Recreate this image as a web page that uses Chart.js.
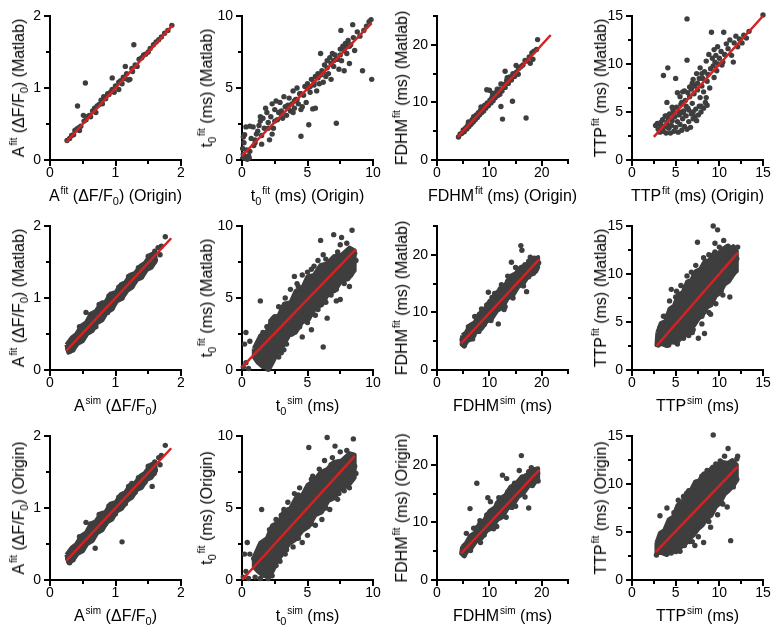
<!DOCTYPE html>
<html>
<head>
<meta charset="utf-8">
<script src="https://cdn.jsdelivr.net/npm/chart.js"></script>
<style>
  body { margin: 0; background: #fff; }
  #fig { position: relative; width: 774px; height: 632px; overflow: hidden; font-family: "Liberation Sans", Arial, sans-serif; }
  #fig canvas { position: absolute; }
  .lbl { position: absolute; font-size: 16px; line-height: 1; white-space: nowrap; color: #000; }
  .lbl sup { font-size: 10px; position: relative; top: -7px; vertical-align: baseline; margin-left: 1px; }
  .lbl sub { font-size: 11px; position: relative; top: 4px; vertical-align: baseline; }
</style>
</head>
<body>
<div id="fig"></div>
<script>
// tick labels per quantity
const ticksA = [0, 1, 2];
const ticksT0 = [0, 5, 10];
const ticksF = [0, 10, 20];
const ticksTTP = [0, 5, 10, 15];

// fitted lines (two end points each)
const p1Fit = [[0.25, 0.25], [1.87, 1.87]];
const p2Fit = [[0, 0.3], [9.9, 9.5]];
const p3Fit = [[4.0, 4.0], [21.7, 21.7]];
const p4Fit = [[2.5, 2.4], [15.0, 15.0]];
const p5Fit = [[0.25, 0.27], [1.85, 1.83]];
const p6Fit = [[0, 0.2], [8.7, 8.4]];
const p7Fit = [[4.6, 4.6], [19.5, 19.2]];
const p8Fit = [[2.8, 2.5], [12.1, 12.2]];
const p9Fit = [[0.25, 0.27], [1.85, 1.83]];
const p10Fit = [[0, 0], [8.6, 8.6]];
const p11Fit = [[4.6, 4.6], [19.5, 19.1]];
const p12Fit = [[2.7, 2.9], [12.1, 11.8]];

// top row: A fit, Origin vs Matlab
const p1Pts = [[0.26,0.27],[0.3,0.3],[0.33,0.34],[0.36,0.35],[0.38,0.41],[0.41,0.43],[0.44,0.45],[0.45,0.41],[0.47,0.47],
  [0.51,0.62],[0.52,0.54],[0.55,0.56],[0.57,0.6],[0.6,0.62],[0.62,0.6],[0.65,0.68],[0.68,0.72],[0.7,0.66],[0.72,0.75],
  [0.75,0.77],[0.78,0.83],[0.8,0.78],[0.82,0.88],[0.85,0.85],[0.88,0.92],[0.9,0.91],[0.93,0.95],[0.95,0.98],[0.98,0.94],
  [1.0,1.03],[1.05,0.98],[1.05,1.08],[1.08,1.1],[1.1,1.06],[1.12,1.15],[1.15,1.13],[1.17,1.2],[1.2,1.11],[1.22,1.12],
  [1.25,1.27],[1.26,1.23],[1.3,1.32],[1.33,1.3],[1.36,1.4],[1.4,1.42],[1.43,1.46],[1.46,1.47],[1.5,1.5],[1.53,1.55],
  [1.58,1.6],[1.62,1.64],[1.66,1.67],[1.7,1.71],[1.75,1.76],[1.8,1.8],[1.86,1.87],
  [0.42,0.75],[0.54,1.07],[0.95,1.14],[1.28,1.6],[1.15,1.3]];

// top row: t0 fit
const p2Pts = [[0.05,0.1],[0.1,0.4],[0.05,0.8],[0.15,1.2],[0.1,1.6],[0.2,1.75],[0.3,0.2],[0.4,0.05],[0.5,0.3],[0.35,0.7],
  [0.55,0.15],[0.6,0.6],[0.3,2.3],[0.6,2.35],[0.85,2.3],[0.7,1.5],[0.9,1.0],[1.0,1.4],[1.1,1.8],[1.2,2.0],[1.3,2.4],
  [1.5,1.1],[1.4,2.7],[1.6,2.9],[1.7,2.2],[1.8,3.6],[1.9,3.3],[2.0,2.6],[2.1,1.4],[2.2,3.0],[2.3,3.9],[2.4,2.2],[2.5,3.5],
  [2.6,4.1],[2.7,2.8],[2.8,3.3],[2.9,4.0],[3.0,3.4],[3.1,2.9],[3.2,4.4],[3.3,3.7],[3.4,3.1],[3.5,3.8],[3.6,4.3],[3.7,3.4],
  [3.8,3.9],[3.9,4.8],[4.0,3.6],[4.1,4.2],[4.2,5.0],[4.3,3.9],[4.4,4.6],[4.5,1.65],[4.6,3.7],[4.7,4.5],[4.8,5.1],[4.9,4.0],
  [5.0,5.3],[5.1,2.45],[5.2,4.7],[5.3,5.6],[5.4,3.55],[5.5,5.2],[5.6,5.8],[5.7,4.8],[5.8,6.0],[5.9,5.3],[6.0,7.4],[6.1,6.2],
  [6.2,5.4],[6.3,6.6],[6.4,5.8],[6.5,6.9],[6.6,6.0],[6.7,7.1],[6.8,5.6],[6.9,7.4],[7.0,6.5],[7.1,7.3],[7.2,2.55],[7.3,7.0],
  [7.4,6.3],[7.5,7.7],[7.55,9.0],[7.6,6.9],[7.7,7.9],[7.8,6.2],[7.9,8.1],[8.0,7.4],[8.1,8.3],[8.2,6.7],[8.3,8.0],[8.45,9.4],
  [8.5,8.5],[8.6,7.6],[8.8,8.9],[9.0,8.6],[9.2,6.2],[9.3,9.0],[9.5,9.3],[9.7,9.6],[9.85,9.75],[9.9,5.6],[5.6,3.6],[3.9,3.3],
  [2.3,1.8],[1.4,3.0],[4.5,3.5],[3.0,3.2],[3.5,3.6],[4.0,4.1],[4.5,4.6],[5.0,5.0],[5.5,5.4],[6.0,5.9],[6.5,6.4],[7.0,6.9],
  [7.5,7.3],[8.0,7.9],[6.2,6.1],[5.2,5.1],[4.2,4.2],[7.8,7.6],[8.2,7.9],[6.8,6.7],[7.2,7.0],[5.8,5.7],[1.5,1.7],[2.0,2.2],
  [2.5,2.7],[1.0,1.2]];

// top row: FDHM fit
const p3Pts = [[4.1,4.0],[4.4,4.5],[4.7,4.6],[5.0,5.2],[5.2,4.9],[5.5,5.6],[5.7,5.4],[5.9,6.1],[6.1,5.8],[6.3,6.5],[6.5,6.2],
  [6.7,7.0],[6.9,6.6],[7.1,7.3],[7.3,7.0],[7.5,7.8],[7.7,7.4],[7.9,8.2],[8.1,7.8],[8.3,8.6],[8.5,8.2],[8.7,9.0],[8.9,8.5],
  [9.1,9.5],[9.3,9.0],[9.5,12.2],[9.6,9.9],[9.8,9.4],[10.0,12.1],[10.1,10.4],[10.3,9.9],[10.5,10.9],[10.7,10.3],[10.9,11.3],
  [11.1,10.8],[11.4,11.8],[11.6,11.2],[11.9,12.3],[12.2,9.3],[12.2,13.2],[12.4,12.0],[12.5,7.1],[12.7,13.1],[13.0,15.4],
  [13.0,12.6],[13.3,13.8],[13.6,13.3],[13.9,14.4],[14.2,13.9],[14.4,10.2],[14.5,15.0],[14.8,14.5],[15.1,16.4],[15.2,15.3],
  [15.6,15.9],[16.0,16.2],[16.4,16.5],[16.8,17.3],[17.0,7.3],[17.2,17.2],[17.6,17.9],[17.8,16.8],[18.1,18.6],[18.5,18.9],
  [19.0,19.2],[19.2,20.9],[18.3,17.5],[11.5,12.3],[8.4,9.2],[7.0,7.5],[6.0,6.6],[10.6,11.6],[13.4,14.3],[15.5,14.9],[12.0,11.4]];

// top row: TTP fit
const p4Pts = [[2.9,3.8],[3.0,3.2],[3.2,2.9],[3.3,3.6],[3.5,4.2],[3.6,3.0],[3.7,3.5],[3.8,4.6],[3.9,2.8],[4.0,3.9],[4.1,4.4],
  [4.2,3.3],[4.3,4.8],[4.4,2.8],[4.5,3.6],[4.6,4.1],[4.7,5.2],[4.8,3.0],[4.9,4.5],[5.0,3.4],[5.1,5.5],[5.2,4.0],[5.3,2.9],
  [5.4,4.7],[5.5,3.7],[5.6,5.8],[5.7,3.1],[5.8,4.3],[5.9,5.1],[6.0,3.5],[6.1,6.2],[6.2,4.6],[6.3,3.2],[6.4,5.4],[6.5,4.0],
  [6.6,6.6],[6.7,3.4],[6.8,4.8],[6.9,5.9],[7.0,4.3],[7.1,6.9],[7.2,4.5],[7.3,5.3],[7.4,4.1],[7.5,7.3],[7.6,4.7],[7.7,5.6],
  [7.8,6.5],[7.9,5.0],[8.0,7.7],[8.2,5.4],[8.4,6.0],[8.6,5.7],[5.5,6.6],[6.0,7.2],[5.2,7.0],[5.4,5.0],[4.6,5.5],[6.5,5.2],
  [7.0,5.0],[6.2,5.6],[5.7,6.0],[4.8,4.9],[5.9,4.9],[4.3,3.5],[3.3,3.9],[4.0,4.6],[6.8,7.4],[7.2,7.7],[7.7,8.5],[7.5,8.0],
  [6.4,7.0],[6.9,8.0],[7.4,9.0],[7.8,9.6],[8.1,8.5],[8.3,9.2],[8.5,10.3],[8.7,8.9],[8.8,11.0],[9.0,9.5],[9.1,13.3],[9.2,10.6],
  [9.3,9.8],[9.4,11.5],[9.5,10.2],[9.6,10.9],[9.8,11.8],[9.9,10.0],[10.0,10.6],[10.2,11.3],[10.3,9.9],[10.5,13.3],[10.6,11.0],
  [10.8,12.1],[11.0,11.6],[11.2,12.5],[11.4,10.9],[11.6,10.2],[11.7,12.2],[11.9,12.9],[12.1,11.8],[12.3,12.6],[12.6,12.2],
  [12.8,13.0],[13.1,12.7],[13.4,13.4],[8.9,7.5],[8.6,8.2],[9.7,9.3],[10.4,10.2],[8.2,7.1],[3.6,8.8],[4.1,9.6],[5.0,8.5],
  [4.0,6.0],[6.3,10.4],[6.3,14.7],[7.0,8.4],[6.6,7.6],[5.8,7.1],[15.0,15.1],[8.0,9.0],[9.4,8.6],[8.5,6.5],[7.9,5.6],[2.7,3.6]];

// middle row: sim vs Matlab (dense clouds: core outline + outlying points)
const p5Core = [[0.25,0.35],[0.33,0.45],[0.4,0.5],[0.48,0.62],[0.55,0.66],[0.62,0.78],[0.7,0.82],[0.78,0.93],[0.85,0.95],
  [0.92,1.06],[1.0,1.08],[1.08,1.19],[1.15,1.22],[1.22,1.32],[1.3,1.35],[1.38,1.45],[1.45,1.49],[1.53,1.6],[1.6,1.63],
  [1.62,1.52],[1.55,1.42],[1.48,1.39],[1.4,1.28],[1.33,1.25],[1.25,1.14],[1.18,1.1],[1.1,0.99],[1.02,0.95],[0.95,0.84],
  [0.87,0.8],[0.8,0.69],[0.72,0.65],[0.65,0.54],[0.57,0.5],[0.5,0.4],[0.42,0.36],[0.35,0.27],[0.28,0.24]];
const p5Pts = [[0.27,0.3],[0.33,0.42],[0.45,0.6],[0.55,0.8],[0.62,0.77],[0.75,0.91],[0.8,0.93],[0.9,1.03],[1.05,1.15],
  [1.2,1.3],[1.35,1.42],[1.5,1.58],[1.6,1.65],[1.65,1.7],[1.7,1.72],[1.76,1.85],[1.68,1.6],[1.59,1.5],[1.5,1.43],[1.4,1.3],
  [1.25,1.16],[1.1,1.0],[0.95,0.86],[0.88,0.8],[0.7,0.6],[0.5,0.43],[0.35,0.28],[0.3,0.26],[1.1,1.08],[0.6,0.62]];

const p6Core = [[0.9,1.5],[1.4,2.4],[1.9,2.7],[2.3,3.6],[2.8,3.8],[3.2,4.6],[3.7,4.7],[4.1,5.5],[4.6,5.7],[5.0,6.5],
  [5.5,6.6],[6.0,7.3],[6.5,7.4],[7.0,7.9],[7.6,8.0],[8.2,8.5],[8.6,8.3],[8.6,6.9],[8.1,6.3],[7.6,6.2],[7.1,5.5],[6.6,5.3],
  [6.1,4.5],[5.6,4.3],[5.1,3.5],[4.6,3.3],[4.1,2.6],[3.6,2.4],[3.1,1.6],[2.7,1.2],[2.4,0.6],[2.1,0.1],[1.6,0.2],[1.2,0.5],[0.9,0.9]];
const p6Pts = [[0.3,2.6],[0.6,2.0],[0.2,1.8],[0.1,0.2],[0.3,0.5],[0.5,0.1],[1.1,1.3],[1.4,4.8],[1.6,2.6],[2.0,0.05],[2.1,0.3],
  [1.8,0.6],[2.8,0.9],[2.5,3.7],[3.3,5.0],[3.7,5.6],[4.2,6.0],[4.6,6.6],[5.0,6.8],[5.5,7.2],[5.8,7.6],[6.2,8.0],[6.0,9.0],
  [7.0,9.4],[7.5,8.7],[8.4,9.7],[8.0,8.8],[8.6,8.1],[8.5,7.2],[8.3,6.6],[7.8,6.0],[7.2,5.6],[6.8,5.2],[7.2,4.8],[6.4,4.7],
  [5.8,4.2],[5.6,3.8],[5.0,3.3],[5.3,2.8],[4.4,3.0],[3.8,2.5],[4.6,2.3],[6.2,1.6],[3.4,1.8],[3.0,1.2],[2.6,1.5],[6.5,3.6],
  [7.5,4.9],[8.2,5.8],[4.0,6.5],[2.8,4.4],[2.2,3.4],[3.2,1.4],[6.6,6.8],[7.6,9.2],[1.3,2.0],[1.9,3.0],[3.0,4.3],[4.3,5.8],
  [5.3,7.0],[6.4,7.7],[7.3,8.2],[8.7,7.6],[7.9,6.7],[6.9,6.0],[5.9,4.9],[4.9,3.9],[3.9,2.8],[2.9,1.9],[2.4,0.9]];

const p7Core = [[4.8,6.0],[5.5,6.5],[6.3,7.8],[7.2,8.3],[8.0,9.8],[9.0,10.4],[10.0,12.0],[11.0,12.6],[12.0,14.2],[13.0,14.8],
  [14.0,16.3],[15.0,16.8],[16.0,17.9],[17.0,18.2],[18.0,19.3],[19.3,19.6],[19.3,17.8],[18.5,16.7],[17.5,16.4],[16.5,15.0],
  [15.5,14.4],[14.5,12.9],[13.5,12.4],[12.5,10.8],[11.5,10.3],[10.5,8.9],[9.5,8.4],[8.5,7.1],[7.5,6.6],[6.5,5.3],[5.8,5.0],
  [5.2,4.1],[4.7,4.4]];
const p7Pts = [[16.0,21.6],[16.2,20.8],[17.8,19.6],[11.7,8.0],[17.1,13.6],[19.0,17.5],[14.2,18.7],[9.8,13.5],[15.0,17.8],
  [18.6,19.4],[19.4,18.6],[7.2,9.3],[6.0,7.5],[8.5,10.6],[5.2,4.2],[5.5,6.1],[4.8,5.3],[10.3,8.6],[13.0,11.0],[14.5,12.5],
  [12.3,14.8],[11.0,13.3],[16.5,14.6],[15.5,17.5],[17.5,16.2],[18.8,17.2],[13.5,16.3],[8.0,6.7],[6.8,5.4],[10.5,12.6],
  [12.8,10.5],[16.8,18.3],[14.0,13.0],[9.0,7.9],[7.6,9.0],[9.5,11.3],[11.5,13.4],[13.5,15.4],[17.5,18.9],[16.0,15.3],
  [12.0,11.1],[10.0,9.1],[7.0,6.0]];

const p8Core = [[2.9,3.9],[3.3,4.9],[3.8,5.1],[4.3,6.4],[4.8,6.7],[5.3,7.9],[5.8,8.1],[6.3,9.2],[6.8,9.4],[7.3,10.3],
  [7.8,10.5],[8.3,11.3],[8.8,11.4],[9.3,12.1],[9.9,12.2],[10.5,12.7],[11.1,12.6],[11.6,12.9],[12.0,12.4],[12.0,10.4],
  [11.6,9.9],[11.1,9.2],[10.6,8.9],[10.1,8.0],[9.6,7.7],[9.1,6.8],[8.6,6.5],[8.1,5.7],[7.6,5.3],[7.1,4.6],[6.6,4.2],
  [6.1,3.6],[5.6,3.3],[5.1,2.8],[4.5,2.9],[4.0,2.5],[3.4,2.7],[2.8,2.6]];
const p8Pts = [[3.0,2.6],[3.2,4.4],[3.3,3.3],[3.6,5.6],[4.0,2.8],[4.3,7.2],[4.5,8.4],[5.0,7.6],[5.2,2.7],[5.6,8.8],[5.9,3.3],
  [6.3,9.8],[6.8,10.2],[6.5,3.6],[7.0,4.2],[7.5,13.3],[7.3,10.9],[7.6,3.3],[8.0,4.8],[8.2,11.7],[8.3,3.8],[8.8,12.0],[9.0,5.8],
  [9.3,15.0],[9.5,13.2],[9.8,14.6],[9.6,6.9],[10.0,12.8],[10.2,8.2],[10.5,13.5],[10.8,11.6],[11.0,12.9],[11.2,7.6],[11.5,11.0],
  [11.8,12.7],[12.0,11.6],[11.9,10.3],[10.5,9.0],[9.0,6.8],[8.0,5.6],[7.2,5.0],[6.0,3.8],[5.0,3.1],[4.2,2.6],[3.6,3.0],
  [6.0,8.6],[5.3,7.4],[4.8,6.5],[3.9,5.6],[7.1,9.9],[8.6,11.3],[9.5,12.3],[10.8,12.8],[11.3,12.0],[4.6,4.6],[6.9,3.9],
  [8.8,6.0],[10.4,7.8],[12.1,12.8],[5.1,8.2]];

// bottom row: sim vs Origin
const p9Core = p5Core.map(([x, y]) => [x, y]);
const p9Pts = [[0.27,0.3],[0.33,0.42],[0.45,0.6],[0.55,0.8],[0.62,0.78],[0.69,0.44],[0.75,0.91],[0.9,1.03],[1.05,1.15],
  [1.1,0.53],[1.2,1.3],[1.35,1.42],[1.5,1.58],[1.56,1.3],[1.6,1.64],[1.66,1.7],[1.7,1.73],[1.76,1.87],[1.68,1.6],[1.59,1.48],
  [1.45,1.36],[1.3,1.22],[1.15,1.06],[1.0,0.92],[0.85,0.78],[0.65,0.57],[0.5,0.42],[0.35,0.28],[0.3,0.24],[0.28,0.34],
  [0.95,1.05],[1.25,1.34]];

const p10Core = [[0.9,1.6],[1.4,2.6],[1.9,2.9],[2.3,3.8],[2.8,4.0],[3.2,4.8],[3.7,5.0],[4.1,5.7],[4.6,5.9],[5.0,6.6],
  [5.5,6.9],[6.0,7.5],[6.5,7.7],[7.0,8.2],[7.6,8.3],[8.2,8.8],[8.6,8.7],[8.6,7.1],[8.1,6.5],[7.6,6.4],[7.1,5.7],[6.6,5.5],
  [6.1,4.7],[5.6,4.5],[5.1,3.7],[4.6,3.4],[4.1,2.8],[3.6,2.5],[3.1,1.8],[2.7,1.3],[2.4,0.7],[2.1,0.2],[1.6,0.3],[1.2,0.6],[0.9,0.9]];
const p10Pts = [[0.1,0.2],[0.3,0.6],[0.2,1.8],[0.4,2.6],[0.6,1.8],[0.5,0.1],[0.9,1.5],[1.0,0.2],[1.2,1.2],[1.4,0.1],[1.5,4.9],
  [1.7,2.4],[2.0,0.1],[2.3,0.3],[2.1,3.5],[2.6,4.2],[2.9,1.3],[3.2,4.9],[3.5,5.4],[3.3,1.8],[3.9,2.3],[4.0,6.0],[4.4,6.4],
  [4.6,2.6],[5.0,3.1],[5.1,9.2],[5.4,7.2],[5.6,3.8],[5.9,7.7],[6.1,4.2],[6.3,8.3],[6.5,9.9],[6.7,4.9],[6.9,8.5],[7.1,9.3],
  [7.3,5.6],[7.5,8.9],[7.8,6.2],[8.0,9.0],[8.2,6.4],[8.5,9.8],[8.6,7.9],[8.4,7.0],[7.7,7.8],[6.0,6.9],[4.8,5.8],[3.7,4.4],
  [2.5,2.5],[1.8,1.3],[7.0,7.2],[5.5,5.3],[4.2,4.5],[1.3,2.2],[2.4,3.2],[3.0,4.5],[4.3,5.9],[5.3,7.0],[6.8,8.0],[8.7,7.4],
  [7.4,6.0],[6.4,5.0],[5.3,3.9],[4.3,2.9],[3.4,2.1],[2.6,1.0]];

const p11Core = [[4.8,5.8],[5.5,6.4],[6.3,7.7],[7.2,8.2],[8.0,9.7],[9.0,10.4],[10.0,12.0],[11.0,12.6],[12.0,14.2],[13.0,14.7],
  [14.0,16.2],[15.0,16.7],[16.0,17.8],[17.0,18.1],[18.0,19.1],[19.3,19.4],[19.3,17.7],[18.5,16.6],[17.5,16.3],[16.5,15.0],
  [15.5,14.4],[14.5,12.9],[13.5,12.4],[12.5,10.9],[11.5,10.4],[10.5,9.0],[9.5,8.5],[8.5,7.2],[7.5,6.7],[6.5,5.4],[5.8,5.0],
  [5.2,4.1],[4.6,4.6]];
const p11Pts = [[16.1,21.6],[7.6,16.8],[6.3,12.4],[5.6,8.1],[17.5,12.5],[18.0,19.5],[15.7,19.0],[19.2,18.5],[19.3,17.2],
  [12.5,18.2],[13.3,17.6],[9.7,14.3],[10.2,13.6],[8.2,10.3],[7.0,9.0],[5.2,4.3],[5.0,5.5],[6.4,5.1],[9.0,7.8],[11.4,9.3],
  [13.2,10.9],[15.0,12.8],[16.8,14.4],[18.2,16.4],[17.0,18.1],[14.8,16.8],[11.8,14.3],[10.8,8.9],[8.3,6.5],[16.3,17.9],
  [14.3,12.6],[12.1,13.9],[7.6,9.1],[9.5,11.3],[11.5,13.3],[13.5,15.3],[17.5,18.8],[16.0,15.2],[12.0,11.2],[10.0,9.2]];

const p12Core = [[2.8,3.9],[3.2,4.9],[3.7,5.2],[4.2,6.3],[4.7,6.6],[5.2,7.8],[5.7,8.0],[6.2,9.1],[6.7,9.3],[7.2,10.2],
  [7.7,10.4],[8.2,11.1],[8.7,11.2],[9.2,11.8],[9.8,11.9],[10.4,12.3],[11.0,12.2],[11.5,12.5],[12.0,12.0],[12.0,10.3],
  [11.6,9.8],[11.1,9.3],[10.6,8.9],[10.1,8.0],[9.6,7.6],[9.1,6.7],[8.6,6.4],[8.1,5.7],[7.6,5.3],[7.1,4.7],[6.6,4.3],
  [6.1,3.7],[5.6,3.4],[5.1,2.9],[4.5,3.0],[4.0,2.6],[3.4,2.8],[2.8,2.8]];
const p12Pts = [[2.8,2.6],[3.0,3.7],[3.2,6.7],[3.4,4.6],[3.6,3.0],[4.0,7.5],[4.2,5.9],[4.5,2.8],[4.8,7.0],[5.3,8.3],[5.5,3.0],
  [5.9,8.7],[6.0,3.6],[6.5,9.3],[6.6,4.0],[7.2,3.6],[7.3,10.2],[7.6,4.5],[8.0,10.8],[8.2,3.9],[8.6,11.4],[9.0,5.5],[9.3,15.1],
  [9.6,12.1],[9.8,6.8],[10.1,12.4],[10.3,8.0],[10.6,12.9],[10.9,7.6],[11.0,13.7],[11.3,4.1],[11.4,12.3],[11.7,11.6],[12.0,12.6],
  [12.0,10.5],[11.6,9.7],[10.7,9.3],[9.4,7.7],[8.4,6.5],[7.3,5.2],[6.4,4.4],[5.0,3.4],[4.0,2.8],[5.2,6.9],[4.6,6.2],[3.9,5.3],
  [6.1,8.2],[7.0,9.3],[8.3,10.5],[9.1,11.2],[10.2,11.9],[4.7,4.5],[6.9,4.0],[8.8,6.1],[10.4,7.9],[12.1,12.9]];

// axis titles
const xTitles = [
  ['A<sup>fit</sup> (ΔF/F<sub>0</sub>) (Origin)', 't<sub>0</sub><sup>fit</sup> (ms) (Origin)', 'FDHM<sup>fit</sup> (ms) (Origin)', 'TTP<sup>fit</sup> (ms) (Origin)'],
  ['A<sup>sim</sup> (ΔF/F<sub>0</sub>)', 't<sub>0</sub><sup>sim</sup> (ms)', 'FDHM<sup>sim</sup> (ms)', 'TTP<sup>sim</sup> (ms)'],
  ['A<sup>sim</sup> (ΔF/F<sub>0</sub>)', 't<sub>0</sub><sup>sim</sup> (ms)', 'FDHM<sup>sim</sup> (ms)', 'TTP<sup>sim</sup> (ms)']
];
const yTitles = [
  ['A<sup>fit</sup> (ΔF/F<sub>0</sub>) (Matlab)', 't<sub>0</sub><sup>fit</sup> (ms) (Matlab)', 'FDHM<sup>fit</sup> (ms) (Matlab)', 'TTP<sup>fit</sup> (ms) (Matlab)'],
  ['A<sup>fit</sup> (ΔF/F<sub>0</sub>) (Matlab)', 't<sub>0</sub><sup>fit</sup> (ms) (Matlab)', 'FDHM<sup>fit</sup> (ms) (Matlab)', 'TTP<sup>fit</sup> (ms) (Matlab)'],
  ['A<sup>fit</sup> (ΔF/F<sub>0</sub>) (Origin)', 't<sub>0</sub><sup>fit</sup> (ms) (Origin)', 'FDHM<sup>fit</sup> (ms) (Origin)', 'TTP<sup>fit</sup> (ms) (Origin)']
];

const FONT = '"Liberation Sans", Arial, sans-serif';
const axA = { min: 0, max: 2, step: 0.5, major: 1, labels: ticksA };
const axT0 = { min: 0, max: 10, step: 2.5, major: 5, labels: ticksT0 };
const axF = { min: 0, max: 25, step: 5, major: 10, labels: ticksF };
const axTTP = { min: 0, max: 15, step: 2.5, major: 5, labels: ticksTTP };
const colAxes = [axA, axT0, axF, axTTP];

const panels = [
  [p1Pts, null, p1Fit], [p2Pts, null, p2Fit], [p3Pts, null, p3Fit], [p4Pts, null, p4Fit],
  [p5Pts, p5Core, p5Fit], [p6Pts, p6Core, p6Fit], [p7Pts, p7Core, p7Fit], [p8Pts, p8Core, p8Fit],
  [p9Pts, p9Core, p9Fit], [p10Pts, p10Core, p10Fit], [p11Pts, p11Core, p11Fit], [p12Pts, p12Core, p12Fit]
];

// layout of plot areas (px)
const colLeft = [50, 242, 437, 632];
const rowTop = [16, 226, 436];
const plotW = 131, plotH = 144;
const yTitleOff = [31, 35, 35, 31];
const PAD_L = 50, PAD_T = 10, PAD_R = 12, PAD_B = 55;

const isMajor = (v, m) => Math.abs(v / m - Math.round(v / m)) < 1e-6;

const tickMarks = {
  id: 'tickMarks',
  afterDraw(chart, args, o) {
    const { ctx } = chart;
    const xs = chart.scales.x, ys = chart.scales.y;
    ctx.save();
    ctx.strokeStyle = '#000';
    ctx.lineWidth = 2;
    ctx.beginPath();
    xs.ticks.forEach(t => {
      const p = Math.round(xs.getPixelForValue(t.value));
      const len = isMajor(t.value, o.xMajor) ? 6 : 4;
      ctx.moveTo(p, xs.top); ctx.lineTo(p, xs.top + len);
    });
    ys.ticks.forEach(t => {
      const p = Math.round(ys.getPixelForValue(t.value));
      const len = isMajor(t.value, o.yMajor) ? 6 : 4;
      ctx.moveTo(ys.right, p); ctx.lineTo(ys.right - len, p);
    });
    ctx.stroke();
    ctx.restore();
  }
};

function axisOpts(a, dir) {
  return {
    type: 'linear', min: a.min, max: a.max,
    ticks: {
      stepSize: a.step, autoSkip: false, maxRotation: 0,
      padding: dir === 'x' ? 5 : 9, color: '#000',
      font: { family: FONT, size: 14 },
      callback: v => a.labels.some(t => Math.abs(t - v) < 1e-6) ? String(v) : ''
    },
    grid: { display: false, drawTicks: false },
    border: { display: true, color: '#000', width: 2 },
    afterFit: s => {
      if (dir === 'x') s.height = PAD_B; else s.width = PAD_L;
      s.paddingLeft = s.paddingRight = s.paddingTop = s.paddingBottom = 0;
    }
  };
}

const xy = arr => arr.map(([x, y]) => ({ x, y }));
const fig = document.getElementById('fig');

function addLabel(html, x, y, vertical) {
  const d = document.createElement('div');
  d.className = 'lbl';
  d.innerHTML = html;
  d.style.left = x + 'px';
  d.style.top = y + 'px';
  d.style.transform = vertical ? 'translate(-50%,-50%) rotate(-90deg)' : 'translate(-50%,-50%)';
  fig.appendChild(d);
}

panels.forEach(([pts, core, fit], i) => {
  const r = Math.floor(i / 4), c = i % 4;
  const ax = colAxes[c];
  const cv = document.createElement('canvas');
  cv.width = PAD_L + plotW + PAD_R;
  cv.height = PAD_T + plotH + PAD_B;
  cv.style.left = (colLeft[c] - PAD_L) + 'px';
  cv.style.top = (rowTop[r] - PAD_T) + 'px';
  fig.appendChild(cv);

  const datasets = [
    { type: 'line', data: xy(fit), borderColor: '#d42222', borderWidth: 2.5, pointRadius: 0, fill: false, order: 0, clip: false },
    { type: 'scatter', data: xy(pts), pointRadius: 2.7, pointBackgroundColor: '#3e3e3e', pointBorderWidth: 0, order: 1, clip: false }
  ];
  if (core) {
    datasets.push({
      type: 'line', data: xy(core.concat([core[0]])), borderColor: '#3e3e3e', backgroundColor: '#3e3e3e',
      borderWidth: 4, borderJoinStyle: 'round', fill: 'shape', pointRadius: 0, tension: 0, order: 2, clip: false
    });
  }

  new Chart(cv, {
    type: 'scatter',
    data: { datasets },
    options: {
      responsive: false, animation: false, events: [],
      layout: { padding: { top: PAD_T, right: PAD_R, left: 0, bottom: 0 } },
      plugins: { legend: { display: false }, tooltip: { enabled: false }, tickMarks: { xMajor: ax.major, yMajor: ax.major } },
      scales: { x: axisOpts(ax, 'x'), y: axisOpts(ax, 'y') }
    },
    plugins: [tickMarks]
  });

  const axisY = rowTop[r] + plotH;
  addLabel(xTitles[r][c], colLeft[c] + plotW / 2, axisY + 36, false);
  addLabel(yTitles[r][c], colLeft[c] - yTitleOff[c], rowTop[r] + plotH / 2, true);
});
</script>
</body>
</html>
